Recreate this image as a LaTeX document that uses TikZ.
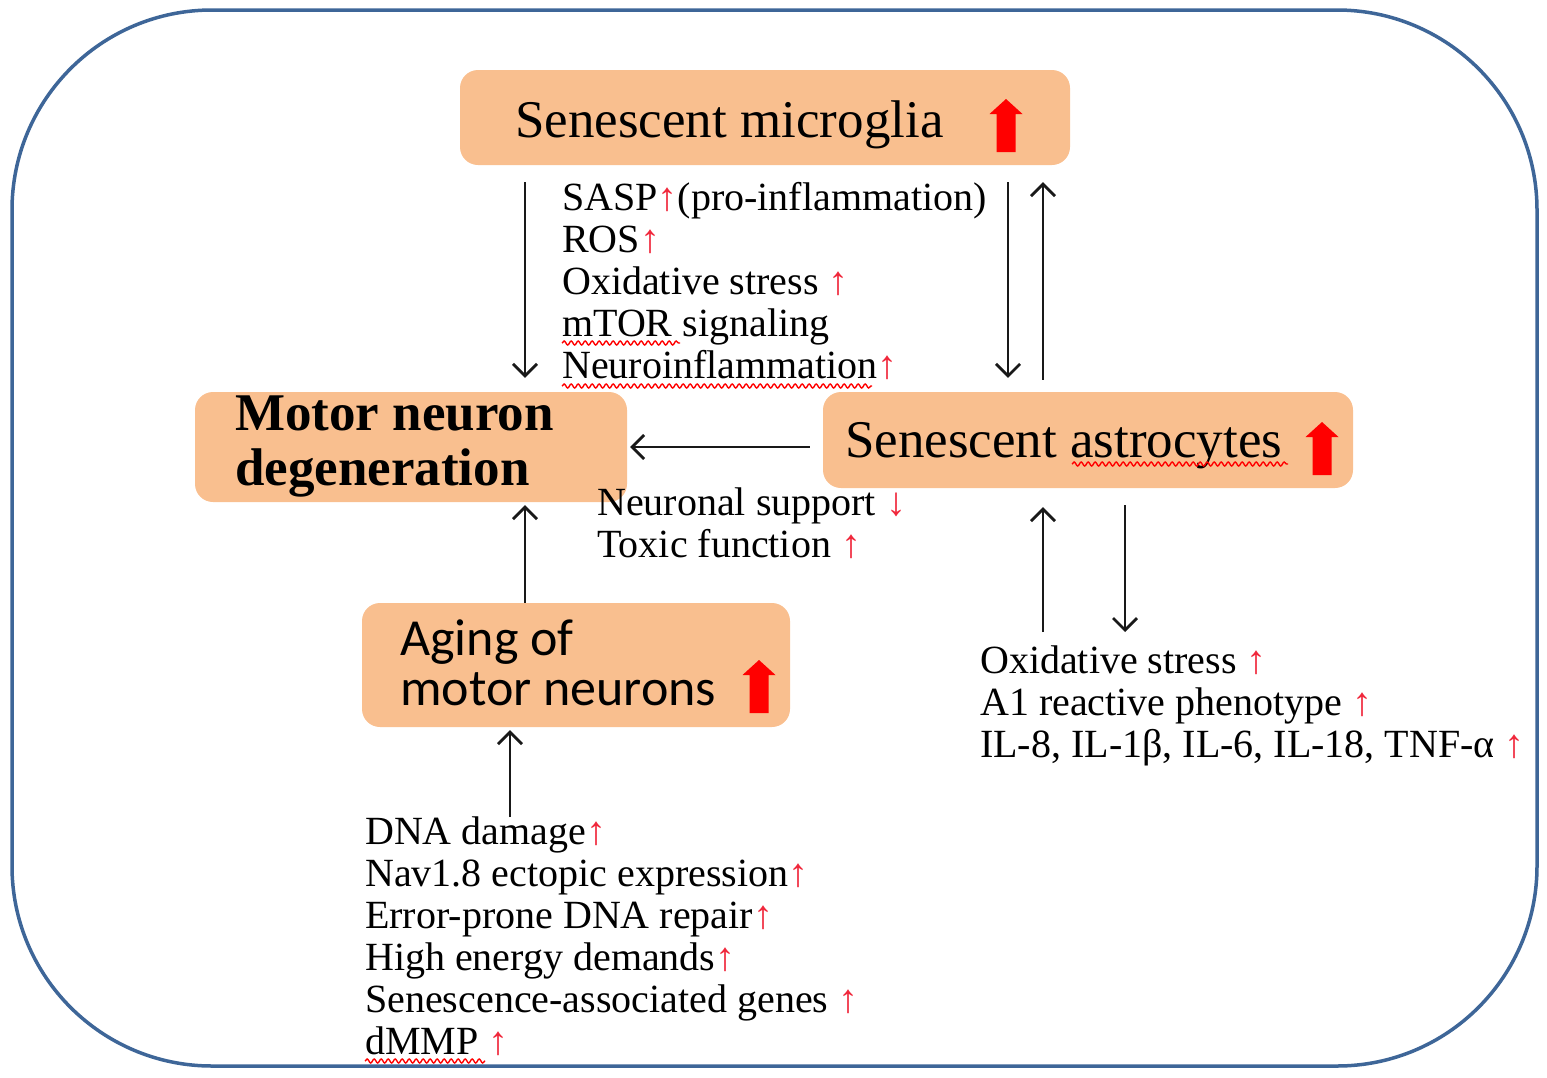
\documentclass[tikz,border=0pt]{standalone}
\usepackage{fontspec}
\setmainfont{Liberation Serif}
\newfontfamily\calib{Carlito}
\usetikzlibrary{arrows.meta,decorations.pathmorphing}
\definecolor{peach}{RGB}{249,191,143}
\definecolor{frameblue}{RGB}{62,102,152}
\definecolor{upred}{RGB}{240,40,60}
\newcommand\myup{{\color{upred}↑}}
\newcommand\mydown{{\color{upred}↓}}
\begin{document}
\begin{tikzpicture}[x=1pt,y=-1pt,
 box/.style={fill=peach, rounded corners=18pt, inner sep=0pt},
 arr/.style={draw=black!90, line width=2.7pt, -{Straight Barb[length=12pt,width=24pt]}},
 lst/.style={anchor=north west, inner sep=0pt, align=left, font=\fontsize{40}{42}\selectfont},
 title/.style={anchor=base west, inner sep=0pt, font=\fontsize{53}{55}\selectfont},
 wave/.style={draw=red, line width=1.4pt, decorate, decoration={snake, segment length=7pt, amplitude=2pt}},
 bigup/.pic={\fill[red] (-9.5,0) -- (9.5,0) -- (9.5,-38) -- (16.5,-38) -- (0,-53) -- (-16.5,-38) -- (-9.5,-38) -- cycle;}
]
\useasboundingbox (0,0) rectangle (1547,1077);
\draw[frameblue, line width=3.5pt, rounded corners=200pt] (12,10) rectangle (1537,1066);

% boxes
\node[box, minimum width=610pt, minimum height=95pt] (mg) at (765,117.5) {};
\node[box, minimum width=432pt, minimum height=110pt] (mn) at (411,447) {};
\node[box, minimum width=530pt, minimum height=96pt] (as) at (1088,440) {};
\node[box, minimum width=428pt, minimum height=124pt] (ag) at (576,665) {};

% box texts
\node[title] (mgt) at (515,137) {Senescent microglia};
\node[title] (ast) at (845,457) {Senescent astrocytes};
\node[anchor=north west, inner sep=0pt, align=left, font=\bfseries\fontsize{53}{55}\selectfont] (mnt) at (235,396) {Motor neuron\\degeneration};
\node[anchor=north west, inner sep=0pt, align=left, font=\calib\fontsize{52}{50}\selectfont] (agt) at (400,620) {Aging of\\motor neurons};

% big red arrows
\pic at (1006,152) {bigup};
\pic at (1322,475) {bigup};
\pic at (759,713) {bigup};

% lists
\node[lst] (l1) at (562,182) {SASP\myup(pro-inflammation)\\ROS\myup\\Oxidative stress \myup\\mTOR signaling\\Neuroinflammation\myup};
\node[lst] (l2) at (597,488) {Neuronal support \mydown\\Toxic function \myup};
\node[lst] (l3) at (980,646) {Oxidative stress \myup\\A1 reactive phenotype \myup\\IL-8, IL-1β, IL-6, IL-18, TNF-α \myup};
\node[lst] (l4) at (365,817) {DNA damage\myup\\Nav1.8 ectopic expression\myup\\Error-prone DNA repair\myup\\High energy demands\myup\\Senescence-associated genes \myup\\dMMP \myup};

% spell-check waves
\draw[wave] (562,343) -- (680,343);
\draw[wave] (562,386) -- (872,386);
\draw[wave] (1072,464) -- (1288,464);
\draw[wave] (365,1061) -- (485,1061);

% connectors
\coordinate (xa) at (525,0);
\coordinate (xb) at (1008,0);
\coordinate (xc) at (1043,0);
\coordinate (xd) at (1125,0);
\coordinate (xe) at (510,0);
\coordinate (ya) at (0,447);
\draw[arr, shorten <=17pt, shorten >=14pt] (mg.south -| xa) -- (mn.north -| xa);
\draw[arr, shorten <=17pt, shorten >=14pt] (mg.south -| xb) -- (as.north -| xb);
\draw[arr, shorten <=12pt, shorten >=17pt] (as.north -| xc) -- (mg.south -| xc);
\draw[arr, shorten <=13pt, shorten >=3pt] (as.west |- ya) -- (mn.east |- ya);
\draw[arr, shorten >=3pt] (ag.north -| xa) -- (mn.south -| xa);
\draw[arr, shorten >=3pt] (l4.north -| xe) -- (ag.south -| xe);
\draw[arr, shorten <=17pt, shorten >=14pt] (as.south -| xd) -- (l3.north -| xd);
\draw[arr, shorten <=14pt, shorten >=19pt] (l3.north -| xc) -- (as.south -| xc);
\end{tikzpicture}
\end{document}
